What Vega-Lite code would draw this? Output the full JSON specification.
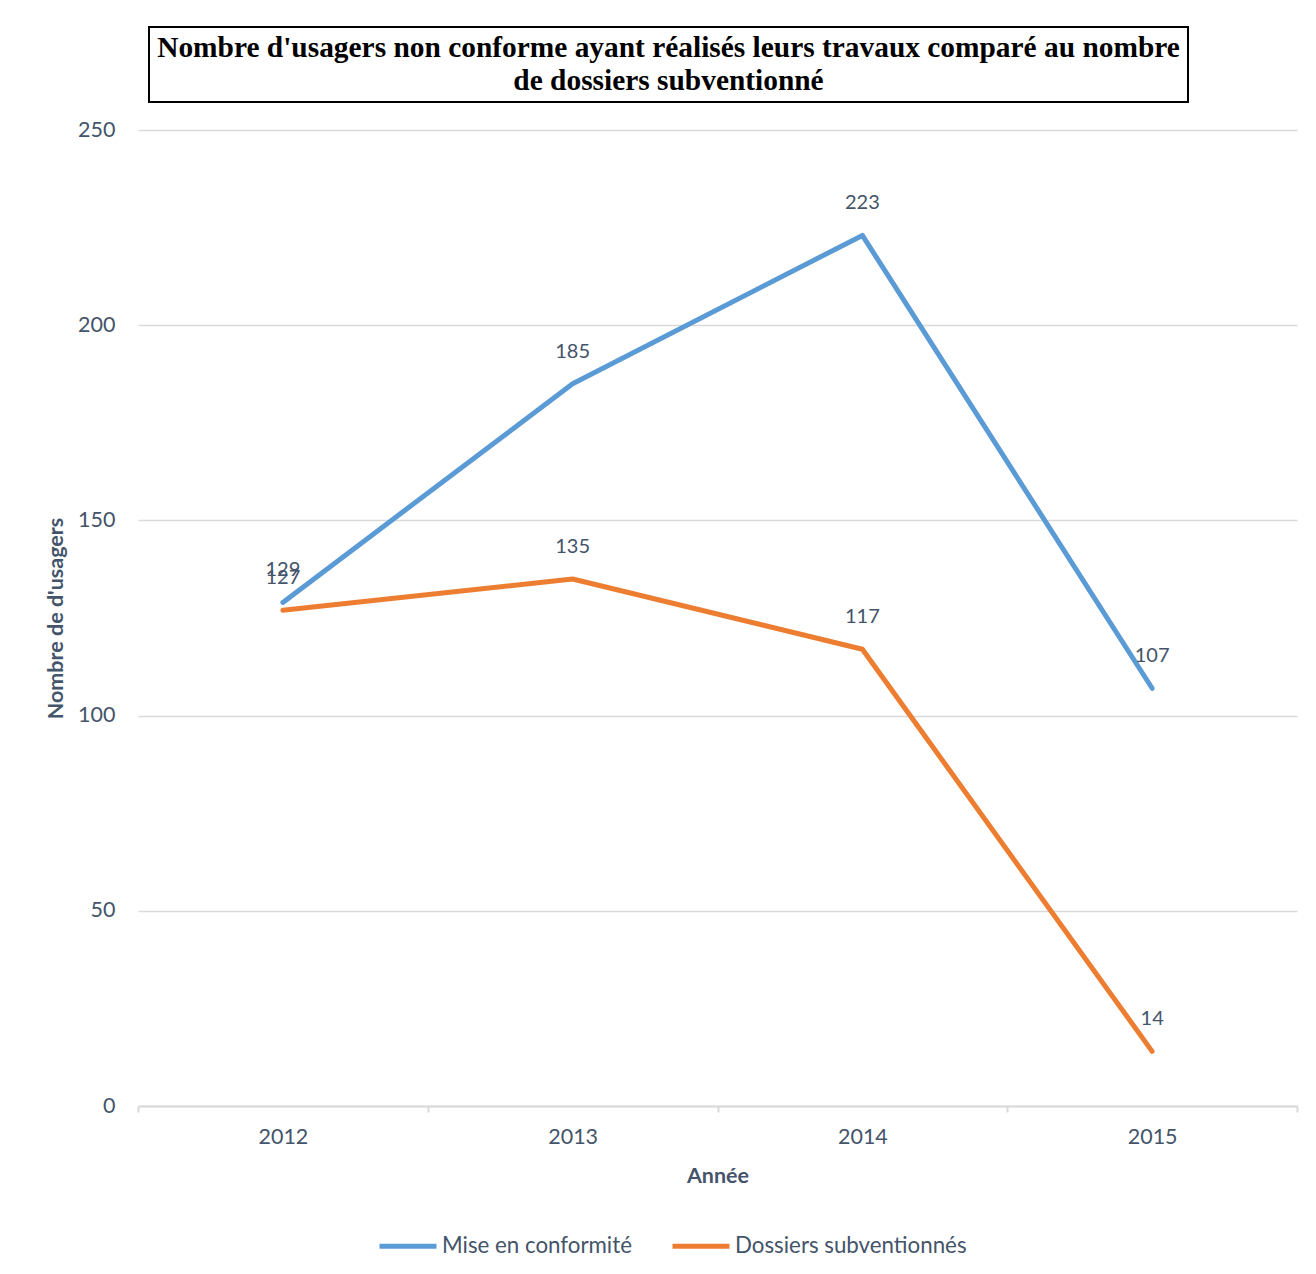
{
  "$schema": "https://vega.github.io/schema/vega-lite/v6.json",
  "padding": {"left": 45, "top": 26, "right": 19, "bottom": 10},
  "background": "white",
  "config": {"view": {"stroke": null}, "font": "Lato"},
  "spacing": 16,
  "vconcat": [
    {
      "spacing": 0,
      "hconcat": [
        {
          "width": 10,
          "height": 75,
          "data": {"values": []},
          "mark": {"type": "point", "opacity": 0},
          "encoding": {}
        },
        {
          "width": 1039,
          "height": 75,
          "view": {"stroke": "black", "strokeWidth": 2},
          "data": {"values": [{"t": ["Nombre d'usagers non conforme ayant réalisés leurs travaux comparé au nombre", "de dossiers subventionné"]}]},
          "mark": {"type": "text", "font": "Liberation Serif", "fontWeight": "bold", "fontSize": 29.4, "lineHeight": 33, "align": "center", "baseline": "middle", "dy": -16.5, "color": "black"},
          "encoding": {"text": {"field": "t"}}
        }
      ]
    },
    {
      "width": 1159,
      "height": 976,
      "data": {"values": [
        {"year": "2012", "series": "Mise en conformité", "value": 129},
        {"year": "2013", "series": "Mise en conformité", "value": 185},
        {"year": "2014", "series": "Mise en conformité", "value": 223},
        {"year": "2015", "series": "Mise en conformité", "value": 107},
        {"year": "2012", "series": "Dossiers subventionnés", "value": 127},
        {"year": "2013", "series": "Dossiers subventionnés", "value": 135},
        {"year": "2014", "series": "Dossiers subventionnés", "value": 117},
        {"year": "2015", "series": "Dossiers subventionnés", "value": 14}
      ]},
      "encoding": {
        "x": {
          "field": "year", "type": "nominal", "bandPosition": 0.5,
          "scale": {"type": "band", "paddingInner": 0, "paddingOuter": 0},
          "axis": {
            "title": "Année", "labelAngle": 0, "tickBand": "extent",
            "domainColor": "#d9d9d9", "domainWidth": 2, "tickColor": "#d9d9d9", "tickWidth": 2, "tickSize": 6,
            "labelFontSize": 21.5, "labelColor": "#44546a", "labelPadding": 14,
            "titleFontSize": 21.5, "titleFontWeight": "bold", "titleColor": "#44546a", "titlePadding": 18
          }
        },
        "y": {
          "field": "value", "type": "quantitative",
          "scale": {"domain": [0, 250]},
          "axis": {
            "title": "Nombre de d'usagers", "values": [0, 50, 100, 150, 200, 250],
            "domain": false, "ticks": false, "gridColor": "#d9d9d9", "gridWidth": 1.5,
            "labelFontSize": 21.5, "labelColor": "#44546a", "labelPadding": 23,
            "titleFontSize": 21.5, "titleFontWeight": "bold", "titleColor": "#44546a", "titlePadding": 10
          }
        }
      },
      "layer": [
        {
          "mark": {"type": "line", "strokeWidth": 5, "strokeCap": "round", "strokeJoin": "round"},
          "encoding": {
            "color": {
              "field": "series", "type": "nominal",
              "scale": {"domain": ["Mise en conformité", "Dossiers subventionnés"], "range": ["#5b9bd5", "#ed7d31"]},
              "legend": {
                "title": null, "orient": "none", "direction": "horizontal",
                "legendX": 239, "legendY": 1188,
                "symbolType": "stroke", "symbolSize": 3249, "symbolStrokeWidth": 5,
                "labelFontSize": 22.3, "labelColor": "#44546a", "labelOffset": 3, "labelLimit": 400,
                "columnPadding": 30
              }
            }
          }
        },
        {
          "mark": {"type": "text", "dy": -32, "fontSize": 20, "color": "#44546a"},
          "encoding": {"text": {"field": "value", "type": "quantitative"}}
        }
      ]
    }
  ]
}
